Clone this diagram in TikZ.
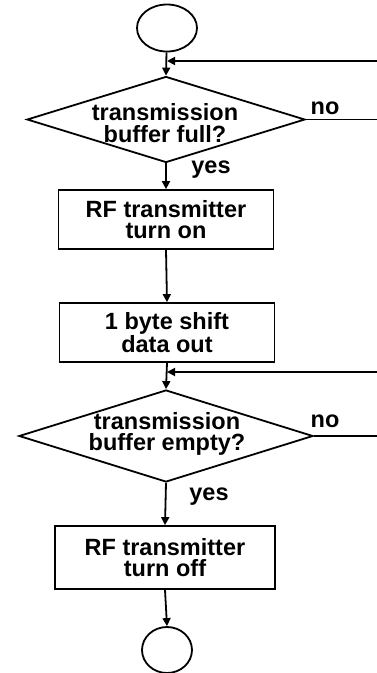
\documentclass[tikz,border=0pt]{standalone}
\usepackage{fontspec}
\setmainfont{Liberation Sans}
\usetikzlibrary{shapes.geometric,arrows.meta}
\begin{document}
\begin{tikzpicture}[x=1pt,y=-1pt,
  line width=1.8pt,
  txt/.style={font=\bfseries\fontsize{23.5}{21.5}\selectfont},
  term/.style={draw,ellipse,inner sep=0pt},
  proc/.style={draw,rectangle,inner sep=0pt,align=center,txt},
  decision/.style={draw,diamond,inner sep=0pt},
  lbl/.style={align=center,inner sep=0pt,txt},
  flow/.style={-{Triangle[width=8pt,length=8pt]}},
]
\useasboundingbox (0,0) rectangle (377,673);

% terminals
\node[term,minimum width=60pt,minimum height=47pt] (start) at (167,28) {};
\node[term,minimum width=50pt,minimum height=46pt] (stop) at (167,650) {};

% first decision
\node[decision,minimum width=278pt,minimum height=86pt] (d1) at (166,119.5) {};
\node[lbl] (t1) at (165,123) {transmission\\buffer full?};

% process boxes
\node[proc,minimum width=215pt,minimum height=59pt] (b1) at (166,219.5) {RF transmitter\\turn on};
\node[proc,minimum width=215pt,minimum height=59pt] (b2) at (167,332.5) {1 byte shift\\data out};

% second decision
\node[decision,minimum width=294pt,minimum height=92pt] (d2) at (166,436) {};
\node[lbl] (t2) at (167,434) {transmission\\buffer empty?};

\node[proc,minimum width=220pt,minimum height=63pt] (b3) at (165,557.5) {RF transmitter\\turn off};

% branch labels
\node[lbl] (no1) at (325,108) {no};
\node[lbl] (yes1) at (211,170) {yes};
\node[lbl] (no2) at (325,421) {no};
\node[lbl] (yes2) at (209,497) {yes};

% loop-back junctions and off-page ends
\coordinate (j1) at (167,61);
\coordinate (r1) at (377,61);
\coordinate (r2) at (377,119.5);
\coordinate (j2) at (167,372);
\coordinate (r3) at (377,372);
\coordinate (r4) at (377,436);

% main flow
\draw[flow] (start) -- (d1.north);
\draw[flow] (d1.south) -- (b1.north);
\draw[flow] (b1.south) -- (b2.north);
\draw[flow] (b2.south) -- (d2.north);
\draw[flow] (d2.south) -- (b3.north);
\draw[flow] (b3.south) -- (stop.north);

% "no" exits and returns
\draw (d1.east) -- (r2);
\draw (d2.east) -- (r4);
\draw[flow] (r1) -- (j1);
\draw[flow] (r3) -- (j2);
\end{tikzpicture}
\end{document}
